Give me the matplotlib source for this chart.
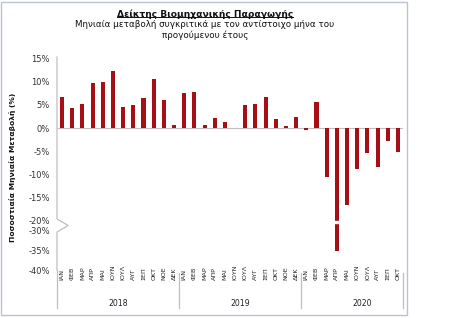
import numpy as np
import matplotlib
matplotlib.use("Agg")
import matplotlib.pyplot as plt
from matplotlib.lines import Line2D
from matplotlib.patches import Rectangle

months = ["ΙΑΝ", "ΦΕΒ", "ΜΑΡ", "ΑΠΡ", "ΜΑΙ", "ΙΟΥΝ", "ΙΟΥΛ", "ΑΥΓ", "ΣΕΠ", "ΟΚΤ", "ΝΟΕ", "ΔΕΚ"]
years = ["2018", "2019", "2020"]
values_2018 = [6.7, 4.4, 5.1, 9.6, 9.9, 12.3, 4.5, 4.9, 6.4, 10.5, 6.0, 0.6]
values_2019 = [7.5, 7.8, 0.6, 2.2, 1.3, 0.0, 5.0, 5.1, 6.6, 1.9, 0.4, 2.4]
values_2020 = [-0.4, 5.6, -10.5, -35.2, -16.7, -8.9, -5.3, -8.5, -2.8, -5.1]
y_ticks = [15, 10, 5, 0, -5, -10, -15, -20, -30, -35, -40]

series = [values_2018, values_2019, values_2020]
values = [v for s in series for v in s]
labels = [months[i] for s in series for i in range(len(s))]
x = np.arange(len(values))

BAR = "#A50F15"
GREY = "#BFBFBF"


# broken axis: -20..-30 squeezed
def fwd(y):
    y = np.asarray(y, float)
    return np.where(y >= -20, y,
                    np.where(y >= -30, -20 + (y + 20) * 0.2, -22 + (y + 30) * 0.86))


def inv(d):
    d = np.asarray(d, float)
    return np.where(d >= -20, d,
                    np.where(d >= -22, -20 + (d + 20) / 0.2, -30 + (d + 22) / 0.86))


fig = plt.figure(figsize=(4.5, 3.18), dpi=100)
ax = fig.add_axes([57 / 450, 48 / 318, 346 / 450, 213 / 318])
ax.set_yscale("function", functions=(fwd, inv))
ax.set_ylim(-40, 15.3)
ax.set_xlim(-0.5, len(values) - 0.5)

ax.bar(x, values, width=0.4, color=BAR, zorder=2)
ax.axhline(0, color=GREY, lw=0.8, zorder=1)

# gap in the bar at the break
ax.axhspan(-22.2, -20.15, xmin=0.05, color="white", zorder=3)

for s in ax.spines.values():
    s.set_visible(False)
ax.set_xticks([])
ax.set_yticks(y_ticks)
ax.set_yticklabels([f"{t}%" for t in y_ticks])
ax.tick_params(axis="y", length=0, pad=5, labelsize=6, labelcolor="#333333")

# left axis line with break mark
ytr = ax.get_yaxis_transform()
ax.add_line(Line2D([0, 0, 0.032, 0, 0], [15.3, -19.6, -25, -30.5, -40],
                   transform=ytr, color=GREY, lw=0.9, clip_on=False, zorder=4))
ax.add_line(Line2D([0, 0], [0, -0.178], transform=ax.transAxes,
                   color=GREY, lw=0.9, clip_on=False))

# category labels and year groups
xtr = ax.get_xaxis_transform()
for i, lab in enumerate(labels):
    ax.text(i, -0.047, lab, transform=xtr, rotation=90, ha="center", va="bottom",
            fontsize=4.6, color="#222222")
start = 0
for yr, s in zip(years, series):
    end = start + len(s)
    ax.add_line(Line2D([end - 0.5, end - 0.5], [-0.014, -0.178], transform=xtr,
                       color=GREY, lw=0.9, clip_on=False))
    ax.text(start + 5.5, -0.155, yr, transform=xtr, ha="center", va="center",
            fontsize=5.6, color="#222222")
    start = end

# titles
t = fig.text(205 / 450, 1 - 14 / 318, "Δείκτης Βιομηχανικής Παραγωγής",
             ha="center", va="center", fontsize=6.6, fontweight="bold", color="#111111")
fig.text(205 / 450, 1 - 30 / 318,
         "Μηνιαία μεταβολή συγκριτικά με τον αντίστοιχο μήνα του\nπρογούμενου έτους",
         ha="center", va="center", fontsize=6.3, color="#111111", linespacing=1.15)
fig.text(12.7 / 450, 1 - 167 / 318, "Ποσοστιαία Μηνιαία Μεταβολή (%)", rotation=90,
         ha="center", va="center", fontsize=5.4, fontweight="bold", color="#111111")

fig.canvas.draw()
bb = t.get_window_extent().transformed(fig.transFigure.inverted())
fig.add_artist(Line2D([bb.x0, bb.x1], [bb.y0 + 0.004, bb.y0 + 0.004],
                      transform=fig.transFigure, color="#111111", lw=0.7))

# chart frame
fig.add_artist(Rectangle((0.002, 3 / 318), 406 / 450, 313 / 318, transform=fig.transFigure,
                         fill=False, edgecolor="#B8C4D6", lw=1))

fig.savefig("out.png", dpi=100)
